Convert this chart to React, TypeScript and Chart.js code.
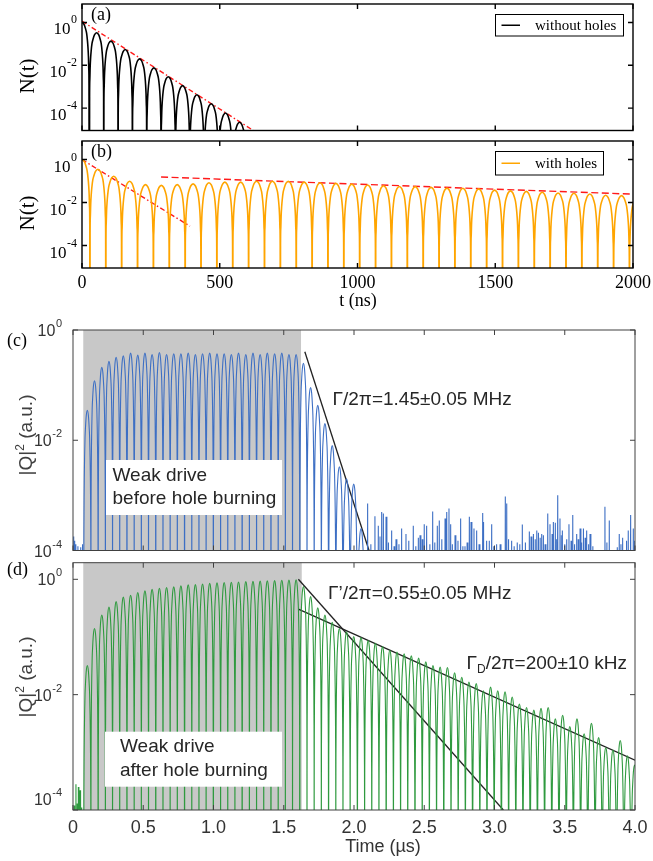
import React, { useEffect, useRef } from "react";
import { Chart, registerables } from "chart.js";

Chart.register(...registerables);

const W = 653;
const H = 861;

// ================= DATA =================
// (a) without holes — lobe peak times (ns) and peak heights
const aPeakTimes = [0, 53, 105, 157, 209, 261, 313, 365, 417, 469, 521, 572];
const aPeakValues = [1.0, 0.33, 0.135, 0.055, 0.02, 0.0076, 0.0029, 0.00112, 0.00042, 0.00016, 5.9e-5, 2.2e-5];
const aPeriod = 52;
const aFitTimes = [0, 622];
const aFitValues = [1.15, 9e-6];

// (b) with holes
const bPeakTimes = [0, 57.6, 115.2, 172.8, 230.4, 288, 345.6, 403.2, 460.8, 518.4, 576, 633.6, 691.2, 748.8, 806.4, 864, 921.6, 979.2, 1036.8, 1094.4, 1152, 1209.6, 1267.2, 1324.8, 1382.4, 1440, 1497.6, 1555.2, 1612.8, 1670.4, 1728, 1785.6, 1843.2, 1900.8, 1958.4, 2016];
const bPeakValues = [1.0, 0.355, 0.166, 0.098, 0.068, 0.063, 0.068, 0.074, 0.083, 0.089, 0.089, 0.098, 0.098, 0.098, 0.089, 0.083, 0.078, 0.072, 0.065, 0.06, 0.056, 0.055, 0.051, 0.047, 0.046, 0.043, 0.038, 0.035, 0.033, 0.03, 0.028, 0.027, 0.025, 0.022, 0.021, 0.02];
const bPeriod = 57.6;
const bFastFitTimes = [0, 392];
const bFastFitValues = [1.0, 7.9e-4];
const bSlowFitTimes = [287, 2000];
const bSlowFitValues = [0.154, 0.0245];

// (c) weak drive before hole burning (µs)
const cPeakTimes = [0.102, 0.153, 0.205, 0.256, 0.307, 0.358, 0.41, 0.461, 0.512, 0.563, 0.615, 0.666, 0.717, 0.768, 0.82, 0.871, 0.922, 0.973, 1.025, 1.076, 1.127, 1.178, 1.23, 1.281, 1.332, 1.383, 1.435, 1.486, 1.537, 1.588, 1.64, 1.691, 1.742, 1.793, 1.845, 1.896, 1.947, 1.998, 2.05];
const cPeakValues = [0.035, 0.12, 0.21, 0.27, 0.32, 0.34, 0.38, 0.35, 0.38, 0.36, 0.39, 0.36, 0.37, 0.37, 0.38, 0.36, 0.37, 0.38, 0.37, 0.37, 0.36, 0.38, 0.36, 0.38, 0.36, 0.38, 0.37, 0.38, 0.36, 0.36, 0.25, 0.09, 0.043, 0.02, 0.008, 0.0033, 0.002, 0.0016, 0.00025];
const cdPeriod = 0.05125;
const cNoiseTimes = [0.005, 0.012, 0.02, 0.035, 0.055, 0.068, 2.097, 2.149, 2.173, 2.197, 2.209, 2.228, 2.268, 2.299, 2.339, 2.37, 2.422, 2.458, 2.47, 2.5, 2.517, 2.56, 2.593, 2.607, 2.648, 2.66, 2.676, 2.688, 2.719, 2.759, 2.79, 2.821, 2.833, 2.854, 2.873, 2.916, 2.925, 2.944, 2.963, 2.98, 3.015, 3.077, 3.087, 3.122, 3.162, 3.198, 3.248, 3.277, 3.301, 3.313, 3.336, 3.348, 3.379, 3.395, 3.419, 3.433, 3.45, 3.466, 3.483, 3.514, 3.53, 3.557, 3.585, 3.609, 3.633, 3.656, 3.68, 3.786, 3.817, 3.874, 3.888, 3.912, 3.952, 3.969, 3.988, 3.998];
const cNoiseValues = [1.8e-4, 1.5e-4, 1.3e-4, 1.2e-4, 1.15e-4, 1.3e-4, 7.1e-4, 4.2e-4, 2.8e-4, 5.0e-4, 4.7e-4, 4.1e-4, 2.3e-4, 1.6e-4, 2.5e-4, 2.0e-4, 2.8e-4, 1.7e-4, 1.9e-4, 3.0e-4, 2.8e-4, 5.1e-4, 2.8e-4, 3.5e-4, 3.8e-4, 5.0e-4, 5.8e-4, 3.0e-4, 1.9e-4, 3.8e-4, 1.2e-4, 4.1e-4, 3.3e-4, 2.5e-4, 2.3e-4, 4.8e-4, 3.3e-4, 1.5e-4, 1.5e-4, 3.0e-4, 1.3e-4, 9.5e-4, 7.1e-4, 1.5e-4, 1.4e-4, 2.95e-4, 2.2e-4, 2.0e-4, 2.3e-4, 2.1e-4, 2.0e-4, 1.9e-4, 4.7e-4, 3.0e-4, 3.3e-4, 3.2e-4, 1.0e-3, 3.8e-4, 2.3e-4, 1.6e-4, 3.0e-4, 4.4e-4, 2.0e-4, 2.5e-4, 2.5e-4, 2.3e-4, 2.0e-4, 6.2e-4, 3.5e-4, 1.15e-4, 2.0e-4, 1.7e-4, 2.3e-4, 4.4e-4, 2.5e-4, 1.5e-4];
// low-level clutter along the floor of (c)
const cClutterTimes = [2.12, 2.185, 2.245, 2.285, 2.32, 2.39, 2.44, 2.485, 2.54, 2.575, 2.625, 2.7, 2.74, 2.775, 2.805, 2.89, 2.995, 3.04, 3.1, 3.14, 3.18, 3.22, 3.26, 3.29, 3.325, 3.36, 3.41, 3.44, 3.475, 3.5, 3.545, 3.57, 3.595, 3.62, 3.645, 3.67, 3.7, 3.8, 3.9, 3.94];
const cClutterValues = [1.3e-4, 1.8e-4, 1.4e-4, 1.2e-4, 1.3e-4, 1.5e-4, 1.2e-4, 1.6e-4, 1.3e-4, 1.4e-4, 1.6e-4, 1.3e-4, 1.5e-4, 1.2e-4, 1.4e-4, 1.3e-4, 1.2e-4, 1.3e-4, 1.6e-4, 1.2e-4, 1.3e-4, 1.4e-4, 1.8e-4, 1.6e-4, 1.7e-4, 1.3e-4, 2.0e-4, 1.6e-4, 1.9e-4, 1.3e-4, 1.5e-4, 1.3e-4, 1.6e-4, 1.4e-4, 1.7e-4, 1.3e-4, 1.2e-4, 1.4e-4, 1.3e-4, 1.5e-4];
const cFitTimes = [1.65, 2.107];
const cFitValues = [0.404, 1e-4];
const cDriveWindow = [0.073, 1.623];

// (d) weak drive after hole burning (µs)
const dPeakTimes = [0.102, 0.153, 0.205, 0.256, 0.307, 0.358, 0.41, 0.461, 0.512, 0.563, 0.615, 0.666, 0.717, 0.768, 0.82, 0.871, 0.922, 0.973, 1.025, 1.076, 1.127, 1.178, 1.23, 1.281, 1.332, 1.383, 1.435, 1.486, 1.537, 1.588, 1.64, 1.691, 1.742, 1.793, 1.845, 1.896, 1.947, 1.998, 2.05, 2.101, 2.152, 2.203, 2.255, 2.306, 2.357, 2.408, 2.46, 2.511, 2.562, 2.613, 2.665, 2.716, 2.767, 2.818, 2.87, 2.921, 2.972, 3.023, 3.075, 3.126, 3.177, 3.228, 3.28, 3.331, 3.382, 3.433, 3.485, 3.536, 3.587, 3.638, 3.69, 3.741, 3.792, 3.843, 3.895, 3.946, 3.997];
const dPeakValues = [0.032, 0.14, 0.24, 0.33, 0.41, 0.49, 0.53, 0.59, 0.63, 0.67, 0.7, 0.72, 0.74, 0.77, 0.8, 0.81, 0.83, 0.85, 0.87, 0.88, 0.89, 0.9, 0.91, 0.92, 0.93, 0.94, 0.95, 0.96, 0.97, 0.98, 0.75, 0.5, 0.32, 0.24, 0.18, 0.14, 0.123, 0.102, 0.098, 0.087, 0.078, 0.068, 0.059, 0.055, 0.051, 0.047, 0.043, 0.037, 0.032, 0.03, 0.0295, 0.024, 0.02, 0.0166, 0.0155, 0.0117, 0.0135, 0.0117, 0.0112, 0.0091, 0.0069, 0.006, 0.0054, 0.0058, 0.006, 0.0038, 0.0044, 0.0028, 0.0038, 0.0021, 0.0032, 0.0018, 0.0012, 0.0011, 0.0016, 0.00087, 0.0006];
const dNoiseTimes = [0.008, 0.021, 0.03, 0.038, 0.05, 0.062];
const dNoiseValues = [1.2e-4, 2.8e-4, 1.3e-4, 2.5e-4, 2.2e-4, 1.1e-4];
const dFit1Times = [1.604, 3.063];
const dFit1Values = [1.0, 1e-4];
const dFit2Times = [1.604, 4.0];
const dFit2Values = [0.303, 7.3e-4];
const dDriveWindow = [0.073, 1.628];

// Ticks
const nsTicks = [0, 500, 1000, 1500, 2000];
const nsTickLabels = ["0", "500", "1000", "1500", "2000"];
const usTicks = [0, 0.5, 1, 1.5, 2, 2.5, 3, 3.5, 4];
const usTickLabels = ["0", "0.5", "1.0", "1.5", "2.0", "2.5", "3.0", "3.5", "4.0"];
const decadeExps = [0, -2, -4];

// ================= STYLE =================
const SERIF = '"Liberation Serif", "Times New Roman", serif';
const SANS = '"Liberation Sans", Arial, sans-serif';
const FLOOR = 1e-12; // zero of a lobe on a log axis (drawn below the axis)
const TXT = "#262626";

// outline of one |cos|^2 lobe: [offset in periods, drop in decades] (null = zero)
const LOBE_OUTLINE: [number, number | null][] = [
  [-0.5, null], [-0.49, -3], [-0.475, -2.2], [-0.45, -1.6], [-0.42, -1.2], [-0.38, -0.85],
  [-0.32, -0.5], [-0.25, -0.3], [-0.15, -0.1], [0, 0], [0.15, -0.1], [0.25, -0.3], [0.32, -0.5],
  [0.38, -0.85], [0.42, -1.2], [0.45, -1.6], [0.475, -2.2], [0.49, -3], [0.5, null],
];

function lobes(times: number[], values: number[], period: number) {
  const pts: { x: number; y: number }[] = [];
  const n = Math.min(times.length, values.length);
  for (let i = 0; i < n; i++) {
    for (const [f, d] of LOBE_OUTLINE) {
      pts.push({ x: times[i] + f * period, y: d === null ? FLOOR : values[i] * Math.pow(10, d) });
    }
  }
  return pts;
}

function spikes(times: number[], values: number[], hw: number) {
  const pts: { x: number; y: number }[] = [];
  const n = Math.min(times.length, values.length);
  for (let i = 0; i < n; i++) {
    pts.push({ x: times[i] - hw, y: FLOOR }, { x: times[i], y: values[i] }, { x: times[i] + hw, y: FLOOR });
  }
  return pts;
}

function pairs(ts: number[], vs: number[]) {
  return ts.map((t, i) => ({ x: t, y: vs[i] }));
}

function ds(data: any[], color: string, width: number, dash: number[] = [], smooth = false) {
  const o: any = { data, borderColor: color, borderWidth: width, borderDash: dash, pointRadius: 0, fill: false, tension: 0 };
  if (smooth) o.cubicInterpolationMode = "monotone";
  return o;
}

type Area = { l: number; t: number; r: number; b: number };

function text(ctx: CanvasRenderingContext2D, s: string, x: number, y: number, font: string, color: string, align: CanvasTextAlign = "left") {
  ctx.save();
  ctx.font = font;
  ctx.fillStyle = color;
  ctx.textAlign = align;
  ctx.textBaseline = "alphabetic";
  ctx.fillText(s, x, y);
  ctx.restore();
}

function pow10(ctx: CanvasRenderingContext2D, exp: string, xRight: number, yBase: number, font: string, supFont: string, rise: number, color: string) {
  ctx.save();
  ctx.fillStyle = color;
  ctx.textBaseline = "alphabetic";
  ctx.font = supFont;
  const ws = ctx.measureText(exp).width;
  ctx.font = font;
  const wb = ctx.measureText("10").width;
  const x0 = xRight - ws - wb - 0.5;
  ctx.fillText("10", x0, yBase);
  ctx.font = supFont;
  ctx.fillText(exp, x0 + wb + 0.5, yBase - rise);
  ctx.restore();
}

function frameAndTicks(chart: any, xTicks: number[], exps: number[], color: string, lw: number, len: number) {
  const { ctx, chartArea: a } = chart;
  const sx = chart.scales.x;
  const sy = chart.scales.y;
  ctx.save();
  ctx.strokeStyle = color;
  ctx.lineWidth = lw;
  ctx.beginPath();
  xTicks.forEach((v) => {
    const px = sx.getPixelForValue(v);
    ctx.moveTo(px, a.top);
    ctx.lineTo(px, a.top + len);
    ctx.moveTo(px, a.bottom);
    ctx.lineTo(px, a.bottom - len);
  });
  exps.forEach((e) => {
    const py = sy.getPixelForValue(Math.pow(10, e));
    ctx.moveTo(a.left, py);
    ctx.lineTo(a.left + len, py);
    ctx.moveTo(a.right, py);
    ctx.lineTo(a.right - len, py);
  });
  ctx.stroke();
  ctx.strokeRect(a.left, a.top, a.right - a.left, a.bottom - a.top);
  ctx.restore();
}

function rotated(ctx: CanvasRenderingContext2D, parts: { s: string; font: string; dy: number }[], cx: number, cy: number, color: string, baseOff: number) {
  ctx.save();
  ctx.translate(cx, cy);
  ctx.rotate(-Math.PI / 2);
  ctx.fillStyle = color;
  ctx.textBaseline = "alphabetic";
  let total = 0;
  parts.forEach((p) => { ctx.font = p.font; total += ctx.measureText(p.s).width; });
  let x = -total / 2;
  parts.forEach((p) => {
    ctx.font = p.font;
    ctx.fillText(p.s, x, baseOff + p.dy);
    x += ctx.measureText(p.s).width;
  });
  ctx.restore();
}

function legendBox(ctx: CanvasRenderingContext2D, x: number, y: number, w: number, h: number, color: string, label: string) {
  ctx.save();
  ctx.fillStyle = "#fff";
  ctx.fillRect(x, y, w, h);
  ctx.strokeStyle = "#000";
  ctx.lineWidth = 1;
  ctx.strokeRect(x, y, w, h);
  ctx.strokeStyle = color;
  ctx.lineWidth = 1.5;
  ctx.beginPath();
  ctx.moveTo(x + 6, y + h / 2);
  ctx.lineTo(x + 24.5, y + h / 2);
  ctx.stroke();
  ctx.restore();
  text(ctx, label, x + 39.5, y + h / 2 + 5, `15px ${SERIF}`, "#000");
}

function shade(chart: any, win: number[]) {
  const { ctx, chartArea: a } = chart;
  const sx = chart.scales.x;
  const x0 = sx.getPixelForValue(win[0]);
  const x1 = sx.getPixelForValue(win[1]);
  ctx.save();
  ctx.fillStyle = "#c8c8c8";
  ctx.fillRect(x0, a.top, x1 - x0, a.bottom - a.top);
  ctx.restore();
}

function whiteBox(ctx: CanvasRenderingContext2D, x: number, y: number, w: number, h: number) {
  ctx.save();
  ctx.fillStyle = "#fff";
  ctx.fillRect(x, y, w, h);
  ctx.restore();
}

function serifYLabels(chart: any) {
  const sy = chart.scales.y;
  decadeExps.forEach((e) => {
    const py = sy.getPixelForValue(Math.pow(10, e));
    pow10(chart.ctx, String(e), 77, py + 12, `17px ${SERIF}`, `12px ${SERIF}`, 11, "#000");
  });
}

function sansYLabels(chart: any, shifts: Record<string, number>) {
  const sy = chart.scales.y;
  decadeExps.forEach((e) => {
    const py = sy.getPixelForValue(Math.pow(10, e)) + (shifts[String(e)] || 0);
    pow10(chart.ctx, String(e), 62, py + 6, `16px ${SANS}`, `11px ${SANS}`, 9, "#333");
  });
}

function qLabel(ctx: CanvasRenderingContext2D, cy: number) {
  rotated(
    ctx,
    [
      { s: "|Q|", font: `19px ${SANS}`, dy: 0 },
      { s: "2", font: `12px ${SANS}`, dy: -8 },
      { s: " (a.u.)", font: `19px ${SANS}`, dy: 0 },
    ],
    25,
    cy,
    "#404040",
    7
  );
}

type PanelDef = {
  area: Area;
  x: number[];
  y: number[];
  datasets: any[];
  before?: (c: any) => void;
  after: (c: any) => void;
};

const panelA: PanelDef = {
  area: { l: 82, t: 4, r: 633, b: 130.5 },
  x: [0, 2000],
  y: [9e-6, 7.3],
  datasets: [
    ds(lobes(aPeakTimes, aPeakValues, aPeriod), "#000", 1.6, [], true),
    ds(pairs(aFitTimes, aFitValues), "#ff1a1a", 1.4, [5, 2.5, 1.5, 2.5]),
  ],
  after: (c) => {
    const ctx = c.ctx;
    frameAndTicks(c, nsTicks, decadeExps, "#000", 1.4, 5);
    serifYLabels(c);
    text(ctx, "(a)", 91, 20, `18px ${SERIF}`, "#000");
    rotated(ctx, [{ s: "N(t)", font: `21px ${SERIF}`, dy: 0 }], 27, 76, "#000", 7);
    legendBox(ctx, 495.5, 14.5, 128, 21.5, "#000", "without holes");
  },
};

const panelB: PanelDef = {
  area: { l: 82, t: 141, r: 633, b: 268 },
  x: [0, 2000],
  y: [9e-6, 7.3],
  datasets: [
    ds(lobes(bPeakTimes, bPeakValues, bPeriod), "#ffa500", 1.6, [], true),
    ds(pairs(bFastFitTimes, bFastFitValues), "#ff1a1a", 1.4, [5, 2.5, 1.5, 2.5]),
    ds(pairs(bSlowFitTimes, bSlowFitValues), "#ff1a1a", 1.4, [7, 3.5]),
  ],
  after: (c) => {
    const ctx = c.ctx;
    frameAndTicks(c, nsTicks, decadeExps, "#000", 1.4, 5);
    serifYLabels(c);
    const sx = c.scales.x;
    nsTicks.forEach((v, i) => text(ctx, nsTickLabels[i], sx.getPixelForValue(v), 288, `18px ${SERIF}`, "#000", "center"));
    text(ctx, "t (ns)", 358, 306, `18px ${SERIF}`, "#000", "center");
    text(ctx, "(b)", 91, 157, `18px ${SERIF}`, "#000");
    rotated(ctx, [{ s: "N(t)", font: `21px ${SERIF}`, dy: 0 }], 27, 213, "#000", 7);
    legendBox(ctx, 495.5, 151.5, 108, 23.5, "#ffa500", "with holes");
  },
};

const BLUE = "#3d6fc4";
const GREEN = "#2f9a3f";

const panelC: PanelDef = {
  area: { l: 73, t: 330, r: 635, b: 550.5 },
  x: [0, 4],
  y: [1e-4, 1],
  datasets: [
    ds(lobes(cPeakTimes, cPeakValues, cdPeriod), BLUE, 1.1, [], true),
    ds(spikes(cNoiseTimes, cNoiseValues, 0.006), BLUE, 1.1),
    ds(spikes(cClutterTimes, cClutterValues, 0.006), BLUE, 1.1),
    ds(pairs(cFitTimes, cFitValues), "#222", 1.3),
  ],
  before: (c) => shade(c, cDriveWindow),
  after: (c) => {
    const ctx = c.ctx;
    whiteBox(ctx, 106, 460, 176, 55);
    text(ctx, "Weak drive", 112.5, 480.5, `19px ${SANS}`, TXT);
    text(ctx, "before hole burning", 112.5, 504, `19px ${SANS}`, TXT);
    text(ctx, "Γ/2π=1.45±0.05 MHz", 332.5, 405, `19px ${SANS}`, TXT);
    frameAndTicks(c, usTicks, decadeExps, "#404040", 1, 5);
    sansYLabels(c, {});
    qLabel(ctx, 435);
    text(ctx, "(c)", 7, 346, `18px ${SERIF}`, "#000");
  },
};

const panelD: PanelDef = {
  area: { l: 73, t: 562.7, r: 635, b: 810 },
  x: [0, 4],
  y: [1e-4, 1.94],
  datasets: [
    ds(lobes(dPeakTimes, dPeakValues, cdPeriod), GREEN, 1.1, [], true),
    ds(spikes(dNoiseTimes, dNoiseValues, 0.004), GREEN, 1.1),
    ds(pairs(dFit1Times, dFit1Values), "#222", 1.3),
    ds(pairs(dFit2Times, dFit2Values), "#222", 1.3),
  ],
  before: (c) => shade(c, dDriveWindow),
  after: (c) => {
    const ctx = c.ctx;
    whiteBox(ctx, 105, 731.7, 177, 55);
    text(ctx, "Weak drive", 120, 751.5, `19px ${SANS}`, TXT);
    text(ctx, "after hole burning", 120, 776, `19px ${SANS}`, TXT);
    text(ctx, "Γ’/2π=0.55±0.05 MHz", 328, 598.5, `19px ${SANS}`, TXT);
    ctx.save();
    ctx.font = `19px ${SANS}`;
    const wG = ctx.measureText("Γ").width;
    ctx.font = `12px ${SANS}`;
    const wD = ctx.measureText("D").width;
    ctx.restore();
    text(ctx, "Γ", 466.5, 668.5, `19px ${SANS}`, TXT);
    text(ctx, "D", 466.5 + wG, 673, `12px ${SANS}`, TXT);
    text(ctx, "/2π=200±10 kHz", 466.5 + wG + wD, 668.5, `19px ${SANS}`, TXT);
    frameAndTicks(c, usTicks, decadeExps, "#404040", 1, 5);
    sansYLabels(c, { "-4": -11 });
    const sx = c.scales.x;
    usTicks.forEach((v, i) => text(ctx, usTickLabels[i], sx.getPixelForValue(v), 833, `18px ${SANS}`, "#333", "center"));
    text(ctx, "Time (µs)", 383, 852, `18px ${SANS}`, "#333", "center");
    qLabel(ctx, 677);
    text(ctx, "(d)", 7, 575, `18px ${SERIF}`, "#000");
  },
};

function Panel({ def }: { def: PanelDef }) {
  const ref = useRef<HTMLCanvasElement>(null);
  useEffect(() => {
    const a = def.area;
    const chart = new Chart(ref.current as HTMLCanvasElement, {
      type: "line",
      data: { datasets: def.datasets },
      options: {
        animation: false,
        responsive: false,
        devicePixelRatio: 1,
        events: [],
        layout: { padding: { left: a.l, top: a.t, right: W - a.r, bottom: H - a.b } },
        plugins: { legend: { display: false }, tooltip: { enabled: false } },
        elements: { point: { radius: 0 }, line: { tension: 0 } },
        scales: {
          x: { type: "linear", min: def.x[0], max: def.x[1], display: false },
          y: { type: "logarithmic", min: def.y[0], max: def.y[1], display: false },
        },
      } as any,
      plugins: [
        {
          id: "deco",
          beforeDatasetsDraw: (c: any) => { if (def.before) def.before(c); },
          afterDatasetsDraw: (c: any) => def.after(c),
        },
      ],
    });
    return () => chart.destroy();
  }, [def]);
  return (
    <canvas
      ref={ref}
      width={W}
      height={H}
      style={{ position: "absolute", left: 0, top: 0, width: W, height: H }}
    />
  );
}

export default function App() {
  return (
    <div style={{ position: "absolute", left: 0, top: 0, width: W, height: H, background: "#fff", overflow: "hidden" }}>
      <Panel def={panelA} />
      <Panel def={panelB} />
      <Panel def={panelC} />
      <Panel def={panelD} />
    </div>
  );
}
